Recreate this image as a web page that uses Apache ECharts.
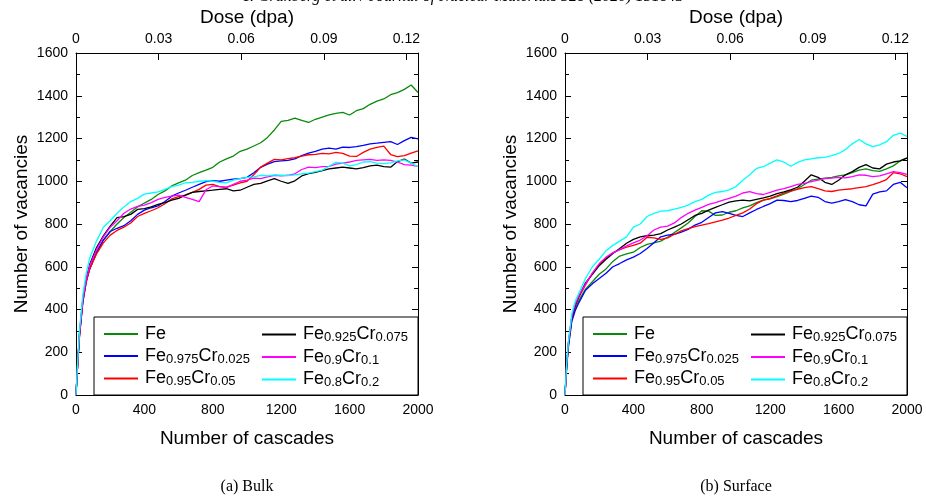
<!DOCTYPE html>
<html>
<head>
<meta charset="utf-8">
<script src="https://cdn.jsdelivr.net/npm/echarts@6/dist/echarts.min.js"></script>
<style>
  html, body { margin: 0; padding: 0; background: #fff; }
  #chart { width: 926px; height: 500px; }
</style>
</head>
<body>
<div id="chart"></div>
<script>
// number of cascades (shared x values)
var cascades = [0, 10, 20, 40, 60, 80, 120, 160, 200, 240, 280, 320, 360, 400, 440, 480, 520, 560, 600, 640,
  680, 720, 760, 800, 840, 880, 920, 960, 1000, 1040, 1080, 1120, 1160, 1200, 1240, 1280, 1320, 1360, 1400, 1440,
  1480, 1520, 1560, 1600, 1640, 1680, 1720, 1760, 1800, 1840, 1880, 1920, 1960, 2000];

var seriesNames = ['Fe', 'Fe0.975Cr0.025', 'Fe0.95Cr0.05', 'Fe0.925Cr0.075', 'Fe0.9Cr0.1', 'Fe0.8Cr0.2'];
var colors = ['#0a8a0a', '#0000ff', '#ff0000', '#000000', '#ff00ff', '#00ffff'];

var xTicks = [0, 400, 800, 1200, 1600, 2000];
var doseTicks = [0, 0.03, 0.06, 0.09, 0.12];
var doseMax = 0.1242;

// (a) Bulk
var bulkFe = [0, 150, 280, 440, 535, 590, 668, 725, 765, 800, 830, 855, 880, 898, 915, 938, 955, 978, 992, 1005,
  1027, 1040, 1052, 1065, 1090, 1105, 1118, 1140, 1150, 1165, 1180, 1205, 1240, 1280, 1285, 1295, 1285, 1275, 1290, 1300,
  1310, 1318, 1322, 1310, 1330, 1340, 1360, 1375, 1385, 1405, 1415, 1430, 1450, 1415];
var bulkCr025 = [0, 145, 270, 435, 530, 590, 665, 725, 765, 780, 792, 815, 845, 865, 876, 885, 905, 930, 945, 958,
  972, 985, 998, 1003, 1000, 1005, 1010, 1012, 1018, 1040, 1065, 1080, 1092, 1095, 1098, 1105, 1120, 1132, 1140, 1150,
  1155, 1150, 1160, 1158, 1162, 1168, 1175, 1178, 1182, 1185, 1172, 1190, 1205, 1198];
var bulkCr05 = [0, 145, 270, 435, 530, 590, 660, 712, 748, 770, 785, 805, 835, 850, 862, 876, 895, 918, 928, 935,
  948, 962, 982, 985, 975, 972, 982, 992, 1000, 1030, 1066, 1085, 1102, 1100, 1106, 1110, 1118, 1124, 1126, 1130,
  1128, 1135, 1130, 1118, 1116, 1135, 1150, 1158, 1164, 1125, 1115, 1120, 1132, 1142];
var bulkCr075 = [0, 150, 285, 450, 545, 610, 690, 745, 790, 830, 835, 845, 868, 872, 880, 892, 900, 912, 920, 935,
  948, 952, 955, 958, 962, 965, 955, 958, 972, 985, 990, 1002, 1012, 1000, 990, 1002, 1025, 1036, 1042, 1050,
  1058, 1062, 1066, 1062, 1058, 1064, 1072, 1075, 1068, 1066, 1092, 1104, 1085, 1090];
var bulkCr10 = [0, 148, 280, 445, 540, 605, 680, 740, 785, 815, 850, 870, 882, 888, 900, 915, 925, 930, 935, 925,
  915, 905, 960, 978, 975, 970, 985, 1000, 1005, 1015, 1012, 1020, 1028, 1025, 1028, 1035, 1055, 1066, 1064, 1068,
  1070, 1080, 1085, 1090, 1098, 1100, 1102, 1098, 1100, 1098, 1090, 1078, 1075, 1070];
var bulkCr20 = [0, 160, 300, 470, 570, 640, 720, 785, 815, 850, 880, 905, 920, 940, 945, 950, 962, 975, 982, 993,
  995, 1000, 1003, 1000, 995, 992, 1005, 1012, 1018, 1020, 1028, 1025, 1030, 1028, 1026, 1030, 1035, 1038, 1045, 1052,
  1070, 1088, 1085, 1072, 1078, 1090, 1092, 1085, 1082, 1086, 1095, 1100, 1085, 1068];

// (b) Surface
var surfFe = [0, 135, 230, 355, 405, 440, 495, 530, 565, 590, 625, 650, 660, 668, 690, 705, 712, 720, 738, 760,
  782, 805, 835, 862, 860, 840, 842, 855, 862, 875, 885, 900, 912, 918, 928, 940, 952, 965, 985, 1005,
  1010, 1015, 1018, 1025, 1030, 1040, 1052, 1058, 1050, 1046, 1058, 1072, 1095, 1110];
var surfCr025 = [0, 130, 225, 345, 395, 430, 490, 520, 545, 570, 600, 615, 632, 645, 662, 685, 712, 740, 748, 752,
  762, 775, 795, 808, 830, 852, 858, 850, 840, 835, 852, 868, 882, 895, 912, 910, 905, 910, 920, 930,
  925, 905, 898, 905, 914, 905, 890, 885, 940, 950, 955, 985, 995, 970];
var surfCr05 = [0, 140, 240, 365, 418, 455, 515, 570, 610, 640, 665, 680, 692, 700, 710, 738, 735, 728, 735, 752,
  768, 778, 788, 795, 802, 810, 818, 828, 840, 852, 870, 895, 912, 920, 932, 945, 955, 962, 970, 975,
  965, 955, 952, 958, 962, 965, 970, 975, 984, 995, 1008, 1040, 1035, 1022];
var surfCr075 = [0, 140, 240, 365, 420, 460, 525, 565, 605, 635, 662, 685, 710, 728, 740, 745, 748, 755, 772, 785,
  800, 820, 840, 850, 865, 878, 890, 902, 908, 912, 908, 915, 922, 930, 942, 950, 960, 972, 1000, 1030,
  1018, 995, 985, 1005, 1030, 1045, 1065, 1078, 1062, 1058, 1080, 1090, 1095, 1108];
var surfCr10 = [0, 145, 245, 370, 425, 462, 520, 570, 615, 645, 665, 680, 698, 712, 725, 745, 772, 785, 790, 805,
  830, 850, 865, 878, 892, 900, 910, 920, 930, 945, 952, 942, 938, 948, 958, 965, 975, 985, 990, 998,
  1005, 1012, 1015, 1018, 1016, 1022, 1030, 1028, 1022, 1025, 1035, 1045, 1040, 1032];
var surfCr20 = [0, 150, 250, 380, 440, 475, 545, 600, 635, 675, 700, 720, 740, 785, 800, 835, 850, 860, 862, 870,
  878, 888, 905, 915, 935, 948, 952, 960, 975, 1005, 1030, 1060, 1068, 1085, 1100, 1090, 1070, 1088, 1100, 1105,
  1110, 1112, 1120, 1130, 1148, 1175, 1195, 1175, 1162, 1170, 1185, 1215, 1225, 1210];

var bulkData = [bulkFe, bulkCr025, bulkCr05, bulkCr075, bulkCr10, bulkCr20];
var surfData = [surfFe, surfCr025, surfCr05, surfCr075, surfCr10, surfCr20];

var legendLabels = {
  'Fe': '{n|Fe}',
  'Fe0.975Cr0.025': '{n|Fe}{s|0.975}{n|Cr}{s|0.025}',
  'Fe0.95Cr0.05': '{n|Fe}{s|0.95}{n|Cr}{s|0.05}',
  'Fe0.925Cr0.075': '{n|Fe}{s|0.925}{n|Cr}{s|0.075}',
  'Fe0.9Cr0.1': '{n|Fe}{s|0.9}{n|Cr}{s|0.1}',
  'Fe0.8Cr0.2': '{n|Fe}{s|0.8}{n|Cr}{s|0.2}'
};

var font = 'Liberation Sans, Arial, sans-serif';
var plots = [{left: 76}, {left: 565}];

var chart = echarts.init(document.getElementById('chart'));

function zip(ys) {
  return cascades.map(function (c, i) { return [c, ys[i]]; });
}
function plain(v) { return String(v); }

var grids = [], xAxes = [], yAxes = [], series = [], legends = [], graphics = [];

plots.forEach(function (p, k) {
  grids.push({left: p.left, top: 53, width: 342, height: 342, containLabel: false});

  // bottom axis: number of cascades
  xAxes.push({
    type: 'value', gridIndex: k, position: 'bottom', min: 0, max: 2000, interval: 400,
    name: 'Number of cascades', nameLocation: 'middle', nameGap: 34,
    nameTextStyle: {fontFamily: font, fontSize: 19, color: '#000'},
    axisLine: {show: true, onZero: false, lineStyle: {color: '#000', width: 1}},
    axisTick: {show: true, inside: true, length: 6, lineStyle: {color: '#000'}},
    minorTick: {show: true, splitNumber: 2, length: 4, lineStyle: {color: '#000'}},
    axisLabel: {fontFamily: font, fontSize: 14, color: '#000', margin: 8, formatter: plain},
    splitLine: {show: false}
  });
  // top axis: dose
  xAxes.push({
    type: 'value', gridIndex: k, position: 'top', min: 0, max: doseMax, interval: 0.03,
    name: 'Dose (dpa)', nameLocation: 'middle', nameGap: 26,
    nameTextStyle: {fontFamily: font, fontSize: 19, color: '#000'},
    axisLine: {show: true, onZero: false, lineStyle: {color: '#000', width: 1}},
    axisTick: {show: true, inside: true, length: 7, lineStyle: {color: '#000'}},
    axisLabel: {
      fontFamily: font, fontSize: 14, color: '#000', margin: 7, showMaxLabel: false,
      formatter: function (v) { return v === 0 ? '0' : v.toFixed(2); }
    },
    splitLine: {show: false}
  });

  yAxes.push({
    type: 'value', gridIndex: k, position: 'left', min: 0, max: 1600, interval: 200,
    name: 'Number of vacancies', nameLocation: 'middle', nameGap: 45,
    nameTextStyle: {fontFamily: font, fontSize: 19, color: '#000'},
    axisLine: {show: true, onZero: false, lineStyle: {color: '#000', width: 1}},
    axisTick: {show: true, inside: true, length: 6, lineStyle: {color: '#000'}},
    minorTick: {show: true, splitNumber: 2, length: 4, lineStyle: {color: '#000'}},
    axisLabel: {fontFamily: font, fontSize: 14, color: '#000', margin: 8, formatter: plain},
    splitLine: {show: false}
  });
  yAxes.push({
    type: 'value', gridIndex: k, position: 'right', min: 0, max: 1600, interval: 200,
    axisLine: {show: true, onZero: false, lineStyle: {color: '#000', width: 1}},
    axisTick: {show: true, inside: true, length: 6, lineStyle: {color: '#000'}},
    minorTick: {show: true, splitNumber: 2, length: 4, lineStyle: {color: '#000'}},
    axisLabel: {show: false},
    splitLine: {show: false}
  });

  var data = k === 0 ? bulkData : surfData;
  seriesNames.forEach(function (name, i) {
    series.push({
      name: name, type: 'line', xAxisIndex: k * 2, yAxisIndex: k * 2,
      data: zip(data[i]), showSymbol: false, symbol: 'none', smooth: false,
      lineStyle: {color: colors[i], width: 1.3}, itemStyle: {color: colors[i]},
      z: 2, animation: false
    });
  });

  // legend box
  graphics.push({
    type: 'rect', z: 3,
    shape: {x: p.left + 18, y: 317, width: 324, height: 78},
    style: {fill: '#fff', stroke: '#000', lineWidth: 1}
  });

  [[0, 1, 2], [3, 4, 5]].forEach(function (col, c) {
    legends.push({
      orient: 'vertical', left: p.left + (c === 0 ? 28 : 186), top: 325, padding: 0,
      itemGap: 3.5, itemWidth: 34, itemHeight: 2, icon: 'rect',
      data: col.map(function (i) { return seriesNames[i]; }),
      selectedMode: false, z: 5,
      formatter: function (name) { return legendLabels[name]; },
      textStyle: {
        fontFamily: font, color: '#000', padding: [0, 0, 0, 2],
        rich: {
          n: {fontFamily: font, fontSize: 18, color: '#000', lineHeight: 19},
          s: {fontFamily: font, fontSize: 13, color: '#000', lineHeight: 13, padding: [6, 0, 0, 0]}
        }
      }
    });
  });
});

// journal header (cut at top) and sub-captions
graphics.push({
  type: 'text', left: 'center', top: -11,
  style: {text: 'T. Granberg et al. / Journal of Nuclear Materials 528 (2020) 151843',
    font: 'italic 16px "Liberation Serif", serif', fill: '#000'}
});
graphics.push({
  type: 'text', x: 247, y: 487,
  style: {text: '(a) Bulk', font: '16px "Liberation Serif", serif', fill: '#000', align: 'center', verticalAlign: 'middle'}
});
graphics.push({
  type: 'text', x: 736, y: 487,
  style: {text: '(b) Surface', font: '16px "Liberation Serif", serif', fill: '#000', align: 'center', verticalAlign: 'middle'}
});

chart.setOption({
  animation: false,
  backgroundColor: '#fff',
  grid: grids,
  xAxis: xAxes,
  yAxis: yAxes,
  legend: legends,
  graphic: graphics,
  series: series
});
</script>
</body>
</html>
